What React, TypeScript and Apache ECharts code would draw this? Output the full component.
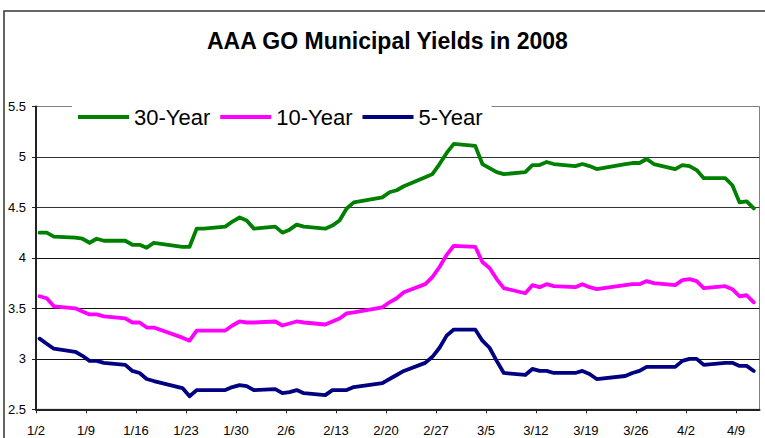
import React, { useEffect, useRef } from "react";
import * as echarts from "echarts";

// Trading days (2008) and AAA GO municipal yields (%)
const dates = [
  "1/2", "1/3", "1/4", "1/7", "1/8", "1/9", "1/10", "1/11", "1/14", "1/15", "1/16", "1/17", "1/18",
  "1/22", "1/23", "1/24", "1/25", "1/28", "1/29", "1/30", "1/31",
  "2/1", "2/4", "2/5", "2/6", "2/7", "2/8", "2/11", "2/12", "2/13", "2/14", "2/15",
  "2/19", "2/20", "2/21", "2/22", "2/25", "2/26", "2/27", "2/28", "2/29",
  "3/3", "3/4", "3/5", "3/6", "3/7", "3/10", "3/11", "3/12", "3/13", "3/14",
  "3/17", "3/18", "3/19", "3/20", "3/24", "3/25", "3/26", "3/27", "3/28", "3/31",
  "4/1", "4/2", "4/3", "4/4", "4/7", "4/8", "4/9", "4/10", "4/11",
];

const yield30 = [
  4.25, 4.25, 4.21, 4.2, 4.19, 4.15, 4.19, 4.17, 4.17, 4.13, 4.13, 4.1, 4.15,
  4.11, 4.11, 4.29, 4.29, 4.31, 4.36, 4.4, 4.37,
  4.29, 4.31, 4.25, 4.28, 4.33, 4.31, 4.29, 4.32, 4.37, 4.49, 4.55,
  4.6, 4.65, 4.67, 4.71, 4.8, 4.83, 4.93, 5.04, 5.13,
  5.11, 4.93, 4.89, 4.85, 4.83, 4.85, 4.92, 4.92, 4.95, 4.93,
  4.91, 4.93, 4.91, 4.88, 4.93, 4.94, 4.94, 4.98, 4.93, 4.88,
  4.92, 4.91, 4.87, 4.79, 4.79, 4.72, 4.55, 4.56, 4.49,
];

const yield10 = [
  3.62, 3.6, 3.52, 3.5, 3.47, 3.44, 3.44, 3.42, 3.4, 3.36, 3.36, 3.31, 3.31,
  3.21, 3.18, 3.28, 3.28, 3.28, 3.33, 3.37, 3.36,
  3.36, 3.37, 3.33, 3.35, 3.37, 3.36, 3.34, 3.37, 3.4, 3.45, 3.46,
  3.51, 3.56, 3.6, 3.66, 3.74, 3.81, 3.91, 4.03, 4.12,
  4.11, 3.96, 3.9, 3.79, 3.7, 3.65, 3.73, 3.71, 3.74, 3.72,
  3.71, 3.74, 3.71, 3.69, 3.73, 3.74, 3.74, 3.77, 3.75, 3.73,
  3.78, 3.79, 3.77, 3.7, 3.72, 3.69, 3.62, 3.63, 3.56,
];

const yield5 = [
  3.2, 3.15, 3.1, 3.07, 3.03, 2.98, 2.98, 2.96, 2.94, 2.88, 2.86, 2.8, 2.78,
  2.71, 2.63, 2.69, 2.69, 2.69, 2.72, 2.74, 2.73,
  2.69, 2.7, 2.66, 2.67, 2.69, 2.66, 2.64, 2.69, 2.69, 2.69, 2.72,
  2.76, 2.8, 2.84, 2.88, 2.96, 3.02, 3.11, 3.23, 3.29,
  3.29, 3.18, 3.11, 2.98, 2.86, 2.84, 2.9, 2.88, 2.88, 2.86,
  2.86, 2.88, 2.85, 2.8, 2.83, 2.86, 2.88, 2.92, 2.92, 2.92,
  2.98, 3.0, 3.0, 2.94, 2.96, 2.96, 2.93, 2.93, 2.88,
];

const weekLabels = [
  "1/2", "1/9", "1/16", "1/23", "1/30", "2/6", "2/13", "2/20",
  "2/27", "3/5", "3/12", "3/19", "3/26", "4/2", "4/9",
];

const seriesNames = ["30-Year", "10-Year", "5-Year"];
const seriesColors = ["#008000", "#FF00FF", "#000080"];

const FONT = "'Liberation Sans', Arial, sans-serif";
const BASE = Date.UTC(2008, 0, 2);

// position of a date in days from 1/2, centred in its day slot
const toDay = (s: string) => {
  const [m, d] = s.split("/").map(Number);
  return (Date.UTC(2008, m - 1, d) - BASE) / 86400000 + 0.5;
};

export default function App() {
  const ref = useRef<HTMLDivElement>(null);

  useEffect(() => {
    if (!ref.current) return;
    const chart = echarts.init(ref.current, null, { renderer: "svg" });
    const allValues = [yield30, yield10, yield5];

    chart.setOption({
      animation: false,
      backgroundColor: "#ffffff",
      title: {
        text: "AAA GO Municipal Yields in 2008",
        left: 207,
        top: 29,
        padding: 0,
        textStyle: {
          fontFamily: FONT,
          fontWeight: "bold",
          fontSize: 23,
          color: "#000",
        },
      },
      graphic: [
        {
          type: "rect",
          z: -10,
          silent: true,
          shape: { x: 4, y: 11, width: 820, height: 520 },
          style: { fill: "none", stroke: "#333", lineWidth: 1.5 },
        },
      ],
      legend: {
        data: seriesNames,
        left: 72,
        top: 102,
        padding: [4, 9, 4, 6],
        backgroundColor: "#ffffff",
        icon: "rect",
        itemWidth: 51,
        itemHeight: 4,
        itemGap: 10,
        textStyle: { fontFamily: FONT, fontSize: 22, color: "#000" },
      },
      grid: {
        left: 36,
        top: 106.5,
        right: 5.5,
        bottom: 28.7,
        show: true,
        borderColor: "#808080",
        borderWidth: 1,
        backgroundColor: "transparent",
      },
      xAxis: {
        type: "value",
        min: 0,
        max: 101.3,
        interval: 7,
        axisLine: { show: true, lineStyle: { color: "#222", width: 2 } },
        axisTick: { show: true, inside: false, length: 4, lineStyle: { color: "#222", width: 1 } },
        splitLine: { show: false },
        axisLabel: {
          margin: 15,
          fontFamily: FONT,
          fontSize: 13,
          color: "#000",
          showMaxLabel: false,
          formatter: (v: number) => {
            const i = Math.round(v / 7);
            if (Math.abs(v - i * 7) > 1e-6) return "";
            return weekLabels[i] ?? "";
          },
        },
      },
      yAxis: {
        type: "value",
        min: 2.5,
        max: 5.5,
        interval: 0.5,
        axisLine: { show: true, lineStyle: { color: "#222", width: 2 } },
        axisTick: { show: true, inside: false, length: 4, lineStyle: { color: "#222", width: 1 } },
        splitLine: {
          show: true,
          lineStyle: {
            color: ["#222", "#111", "#111", "#111", "#333", "#333", "#808080"],
            width: 1,
          },
        },
        axisLabel: {
          margin: 10,
          fontFamily: FONT,
          fontSize: 13,
          color: "#000",
        },
      },
      series: seriesNames.map((name, k) => ({
        name,
        type: "line",
        showSymbol: false,
        symbol: "none",
        color: seriesColors[k],
        lineStyle: { color: seriesColors[k], width: 3.8, join: "round", cap: "round" },
        data: dates.map((d, i) => [toDay(d), allValues[k][i]]),
      })),
    });

    return () => chart.dispose();
  }, []);

  return (
    <div
      ref={ref}
      style={{ position: "fixed", left: 0, top: 0, width: 765, height: 438 }}
    />
  );
}
